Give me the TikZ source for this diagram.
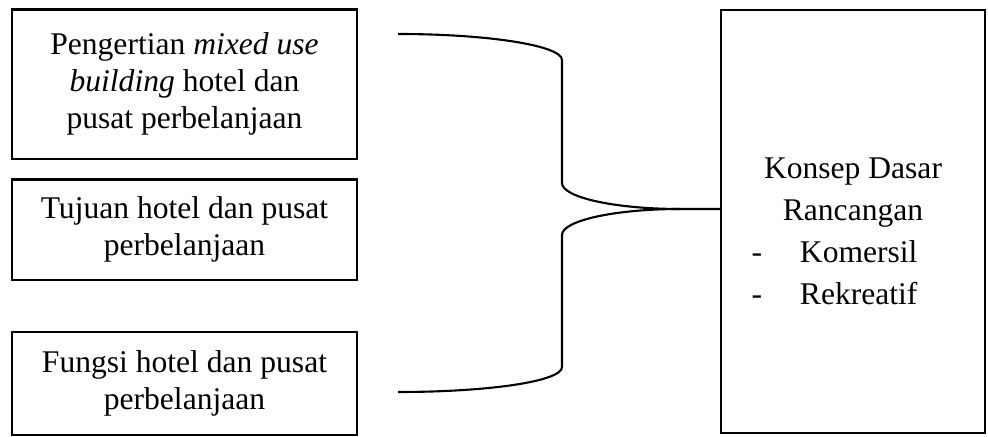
\documentclass[tikz,border=0pt]{standalone}
\usepackage{fontspec}
\setmainfont{Liberation Serif}
\begin{document}
\begin{tikzpicture}[x=0.38pt, y=-0.38pt,
        kotak/.style={draw, line width=0.8pt, align=center, inner sep=0pt,
            font=\fontsize{12}{14}\selectfont},
        kurung/.style={line width=0.8pt}]
            \useasboundingbox (0,0) rectangle (988,437);

            \node (pengertian) at (184.5,84.25)[kotak, minimum width=131.1pt, minimum height=56.8pt]
                {Pengertian \textit{mixed use}\\\textit{building} hotel dan\\pusat perbelanjaan};
            \node (tujuan) at (184.5,229.75)[kotak, minimum width=131.1pt, minimum height=38.2pt]
                {Tujuan hotel dan pusat\\perbelanjaan};
            \node (fungsi) at (184.5,383.5)[kotak, minimum width=131.1pt, minimum height=39.1pt]
                {Fungsi hotel dan pusat\\perbelanjaan};
            \node (konsep) at (853,221.5)[kotak, minimum width=100.3pt, minimum height=160.7pt,
                font=\fontsize{12}{16}\selectfont]
                {\rule{0pt}{15.5pt}Konsep Dasar\\Rancangan\\
                \makebox[77.1pt][l]{\makebox[18.4pt][l]{-}Komersil}\\
                \makebox[77.1pt][l]{\makebox[18.4pt][l]{-}Rekreatif}};

            \coordinate (atas) at (398,34);
            \coordinate (bawah) at (398,392);
            \coordinate (ujung) at (680,209);
            \draw[kurung] (atas) .. controls (488.5,34) and (562,45.6) .. (562,60) -- (562,183)
                .. controls (562,197.4) and (614.9,209) .. (ujung) -- (ujung -| konsep.west);
            \draw[kurung] (ujung) .. controls (614.9,209) and (562,220.6) .. (562,235) -- (562,367)
                .. controls (562,381.4) and (488.5,392) .. (bawah);
        \end{tikzpicture}
\end{document}
